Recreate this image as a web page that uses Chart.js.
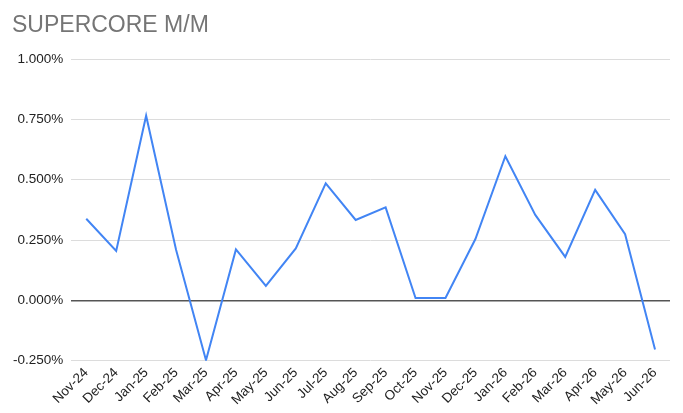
<!DOCTYPE html>
<html>
<head>
<meta charset="utf-8">
<script src="https://cdn.jsdelivr.net/npm/chart.js@4"></script>
<style>
  html, body { margin: 0; padding: 0; background: #fff; }
  #wrap { position: relative; width: 683px; height: 413px; }
  #title {
    position: absolute; left: 12px; top: 13px;
    font: 23px/23px Arial, "Liberation Sans", sans-serif;
    color: #757575; white-space: nowrap;
  }
</style>
</head>
<body>
<div id="wrap">
  <div id="title">SUPERCORE M/M</div>
  <canvas id="myChart"></canvas>
</div>
<script>
let months = ['Nov-24','Dec-24','Jan-25','Feb-25','Mar-25','Apr-25','May-25','Jun-25','Jul-25','Aug-25',
  'Sep-25','Oct-25','Nov-25','Dec-25','Jan-26','Feb-26','Mar-26','Apr-26','May-26','Jun-26'];
let supercore = [0.338, 0.205, 0.765, 0.21, -0.248, 0.211, 0.06, 0.215, 0.485, 0.333,
  0.385, 0.01, 0.01, 0.254, 0.597, 0.354, 0.18, 0.458, 0.274, -0.204];
let yMin = -0.25;
let yMax = 1.0;
let yStep = 0.25;

Chart.defaults.font.family = 'Arial, "Liberation Sans", sans-serif';

const ctx = document.getElementById('myChart').getContext('2d');
const myChart = new Chart(ctx, {
  type: 'line',
  data: {
    labels: months,
    datasets: [{
      label: 'Supercore M/M',
      data: supercore,
      borderColor: '#4285f4',
      borderWidth: 2,
      pointRadius: 0,
      tension: 0,
      fill: false
    }]
  },
  options: {
    responsive: true,
    maintainAspectRatio: false,
    animation: false,
    layout: {
      padding: { left: 5, right: 13, top: 59, bottom: 1 }
    },
    plugins: {
      legend: { display: false },
      tooltip: { enabled: false },
      title: { display: false }
    },
    scales: {
      x: {
        offset: true,
        grid: { display: false, drawTicks: false },
        border: { display: false },
        ticks: {
          color: '#222',
          font: { size: 13.5 },
          maxRotation: 45,
          minRotation: 45,
          autoSkip: false,
          padding: 4
        }
      },
      y: {
        min: yMin,
        max: yMax,
        border: { display: false },
        grid: {
          drawTicks: false,
          lineWidth: (c) => c.tick && c.tick.value === 0 ? 1.5 : 1,
          color: (c) => c.tick && c.tick.value === 0 ? '#555' : '#dcdcdc'
        },
        ticks: {
          stepSize: yStep,
          color: '#222',
          font: { size: 13.5 },
          padding: 8,
          callback: (v) => v.toFixed(3) + '%'
        }
      }
    }
  }
});
</script>
</body>
</html>
